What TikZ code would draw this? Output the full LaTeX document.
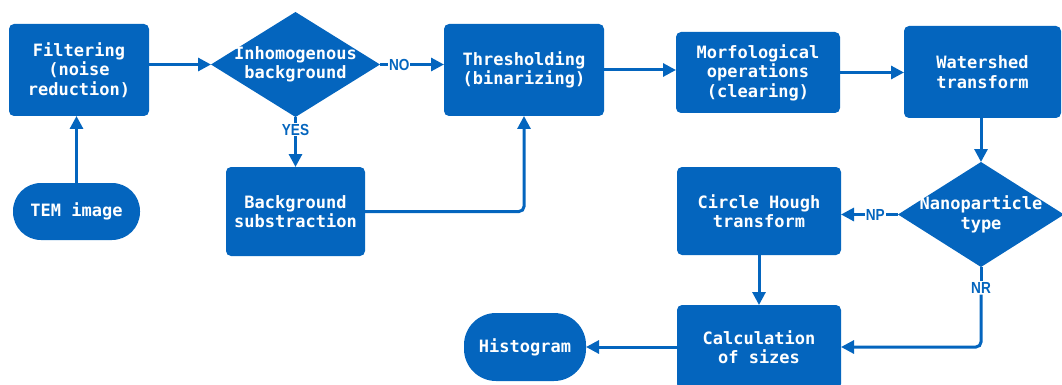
\documentclass[tikz,border=0pt]{standalone}
\usepackage{fontspec}
\usetikzlibrary{shapes.geometric,arrows.meta}
\newfontfamily\boxfont{DejaVu Sans Mono}
\newfontfamily\tagfont{Liberation Sans}[FakeStretch=0.85]
\definecolor{flowblue}{RGB}{4,101,190}
\begin{document}
\begin{tikzpicture}[x=1pt,y=-1pt,
  every node/.style={inner sep=0pt, outer sep=0pt},
  txt/.style={text=white, align=center, font=\boxfont\bfseries\fontsize{17}{19.5}\selectfont},
  procbox/.style={txt, fill=flowblue, rounded corners=5pt},
  pill/.style={txt, fill=flowblue, rounded corners=28pt},
  decision/.style={diamond, fill=flowblue},
  tag/.style={fill=white, text=flowblue, inner sep=1pt, font=\tagfont\bfseries\fontsize{16}{18}\selectfont},
  flow/.style={draw=flowblue, line width=3pt, -{Triangle[length=13pt,width=13pt]}},
  flowline/.style={draw=flowblue, line width=3pt}
]
\useasboundingbox (0,0) rectangle (1062,385);
\clip (0,0) rectangle (1062,385);

% process steps
\node[procbox, minimum width=140pt, minimum height=92pt] (filt) at (79,70) {Filtering\\(noise\\reduction)};
\node[decision, minimum width=169pt, minimum height=105pt,
      label={[txt]center:Inhomogenous\\background}] (inh) at (295.5,64.5) {};
\node[procbox, minimum width=160pt, minimum height=92pt] (thr) at (524,70) {Thresholding\\(binarizing)};
\node[procbox, minimum width=164pt, minimum height=81pt] (mor) at (758,72.5) {Morfological\\operations\\(clearing)};
\node[procbox, minimum width=157pt, minimum height=92pt] (wat) at (982.5,72) {Watershed\\transform};
\node[pill, minimum width=127pt, minimum height=57pt] (tem) at (76.5,211.5) {TEM image};
\node[procbox, minimum width=139pt, minimum height=89pt] (bgs) at (295.5,211.5) {Background\\substraction};
\node[procbox, minimum width=164pt, minimum height=88pt] (chh) at (759,211) {Circle Hough\\transform};
\node[decision, minimum width=166pt, minimum height=105pt,
      label={[txt]center:Nanoparticle\\type}] (npt) at (981,214.5) {};
\node[procbox, minimum width=164pt, minimum height=84pt] (calc) at (759,347) {Calculation\\of sizes};
\node[pill, rounded corners=32pt, minimum width=122pt, minimum height=68pt] (hist) at (525,347) {Histogram};

% connectors
\draw[flow] (tem.north) -- (tem.north |- filt.south);
\draw[flow] (filt.east |- inh.west) -- (inh.west);
\draw[flow] (inh.east) -- node[tag, pos=0.3] (no) {NO} (inh.east -| thr.west);
\draw[flow] (inh.south) -- node[tag, pos=0.25] (yes) {YES} (bgs.north);
\draw[flow, rounded corners=5pt] (bgs.east) -| (thr.south);
\draw[flow] (thr.east |- 0,70) -- (mor.west |- 0,70);
\draw[flow] (mor.east) -- (wat.west |- mor.east);
\draw[flow] (wat.south -| npt.north) -- (npt.north);
\draw[flow] (npt.west) -- node[tag, pos=0.4] (np) {NP} (npt.west -| chh.east);
\draw[flowline] (npt.south) -- (npt.south |- 0,288) node[tag] (nr) {NR};
\draw[flow, rounded corners=5pt] (nr.south) |- (calc.east);
\draw[flow] (chh.south) -- (calc.north);
\draw[flow] (calc.west) -- (hist.east);
\end{tikzpicture}
\end{document}
